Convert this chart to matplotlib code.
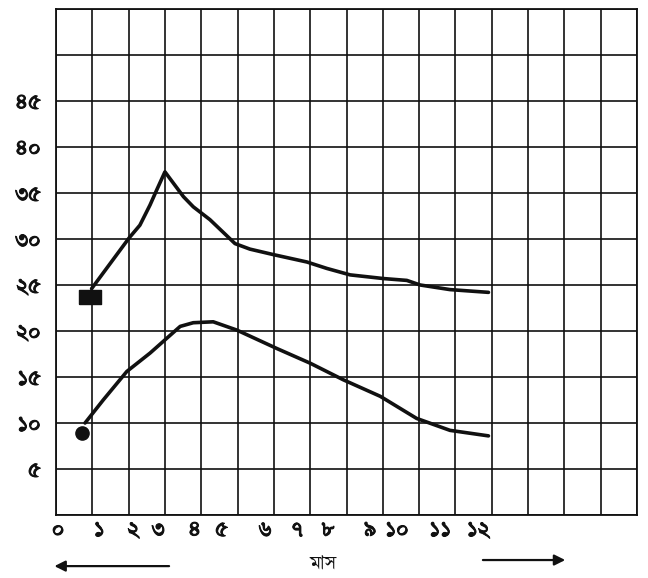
import numpy as np
import matplotlib
matplotlib.use('Agg')
import matplotlib.pyplot as plt
import matplotlib.patheffects as pe
from matplotlib import font_manager
from matplotlib.ft2font import FT2Font

# month axis: grid line i = month i, value axis 0..55
upper_x = [0.98, 2.01, 2.31, 2.59, 2.77, 3.0, 3.51, 3.78, 4.24, 4.93, 5.34, 5.99,
           6.91, 7.46, 8.1, 9.02, 9.66, 10.03, 10.85, 11.91]
upper_y = [24.6, 30.1, 31.5, 33.7, 35.3, 37.3, 34.6, 33.5, 32.1, 29.5, 28.9, 28.3,
           27.5, 26.8, 26.1, 25.7, 25.5, 25.0, 24.5, 24.2]
lower_x = [0.8, 1.3, 1.95, 2.59, 3.42, 3.78, 4.33, 4.98, 6.08, 7.0, 7.91, 8.93,
           9.93, 10.85, 11.91]
lower_y = [10.0, 12.5, 15.6, 17.6, 20.5, 20.9, 21.0, 20.1, 18.1, 16.5, 14.7, 12.9,
           10.5, 9.2, 8.6]
upper_start = (0.94, 23.7)
lower_start = (0.71, 8.9)

y_ticks = [0, 5, 10, 15, 20, 25, 30, 35, 40, 45, 50, 55]
y_labels = ['', '৫', '১০', '১৫', '২০', '২৫', '৩০', '৩৫', '৪০', '৪৫', '', '']
month_labels = ['০', '১', '২', '৩', '৪', '৫', '৬', '৭', '৮', '৯', '১০', '১১', '১২']
month_label_pos = [0.06, 1.19, 2.13, 2.82, 3.83, 4.56, 5.76, 6.63, 7.5, 8.65, 9.39, 10.58, 11.63]
x_title = 'মাস'


def find_bengali_font():
    names = {}
    for f in font_manager.fontManager.ttflist:
        try:
            if 0x09E6 in FT2Font(f.fname).get_charmap():
                names[f.name] = True
        except Exception:
            pass
    for pref in ['FreeSerif', 'Noto Serif Bengali', 'Noto Sans Bengali', 'Hind Siliguri', 'FreeSans']:
        if pref in names:
            return pref
    return next(iter(names), None)


bn = find_bengali_font()
plt.rcParams['font.family'] = [bn, 'DejaVu Sans'] if bn else ['DejaVu Sans']

ink = '#111111'
thick = [pe.withStroke(linewidth=0.7, foreground=ink)]

fig = plt.figure(figsize=(6.48, 5.78), dpi=100)
ax = fig.add_axes([56 / 648, 1 - 515 / 578, 581 / 648, 506 / 578])
ax.set_xlim(0, 16)
ax.set_ylim(0, 55)
ax.set_xticks(np.arange(0, 17))
ax.set_xticklabels([])
ax.set_yticks(y_ticks)
ax.set_yticklabels(y_labels, fontsize=18, color=ink)
for t in ax.get_yticklabels():
    t.set_path_effects(thick)
ax.tick_params(length=0, pad=11)
ax.grid(True, color=ink, lw=1.2)
for s in ax.spines.values():
    s.set_color(ink)
    s.set_linewidth(1.3)

ax.plot(upper_x, upper_y, color=ink, lw=2.6, solid_capstyle='round', solid_joinstyle='round', zorder=3)
ax.plot(lower_x, lower_y, color=ink, lw=2.6, solid_capstyle='round', solid_joinstyle='round', zorder=3)
rect = [(-1.1, -0.7), (1.1, -0.7), (1.1, 0.7), (-1.1, 0.7), (-1.1, -0.7)]
ax.plot([upper_start[0]], [upper_start[1]], marker=rect, ms=16, color=ink, ls='none', zorder=4)
ax.plot([lower_start[0]], [lower_start[1]], marker='o', ms=9.5, color=ink, ls='none', zorder=4)

tr = ax.get_xaxis_transform()
for p, lab in zip(month_label_pos, month_labels):
    ax.text(p, -0.032, lab, transform=tr, ha='center', va='center', fontsize=18,
            color=ink, path_effects=thick)
ax.text(7.36, -0.099, x_title, transform=tr, ha='center', va='center', fontsize=16, color=ink)
ax.annotate('', xy=(-0.12, -0.101), xytext=(3.19, -0.101), xycoords=tr, textcoords=tr,
            arrowprops=dict(arrowstyle='-|>', color=ink, lw=1.6, mutation_scale=16))
ax.annotate('', xy=(14.1, -0.089), xytext=(11.68, -0.089), xycoords=tr, textcoords=tr,
            arrowprops=dict(arrowstyle='-|>', color=ink, lw=1.6, mutation_scale=16))

fig.savefig('out.png', dpi=100)
